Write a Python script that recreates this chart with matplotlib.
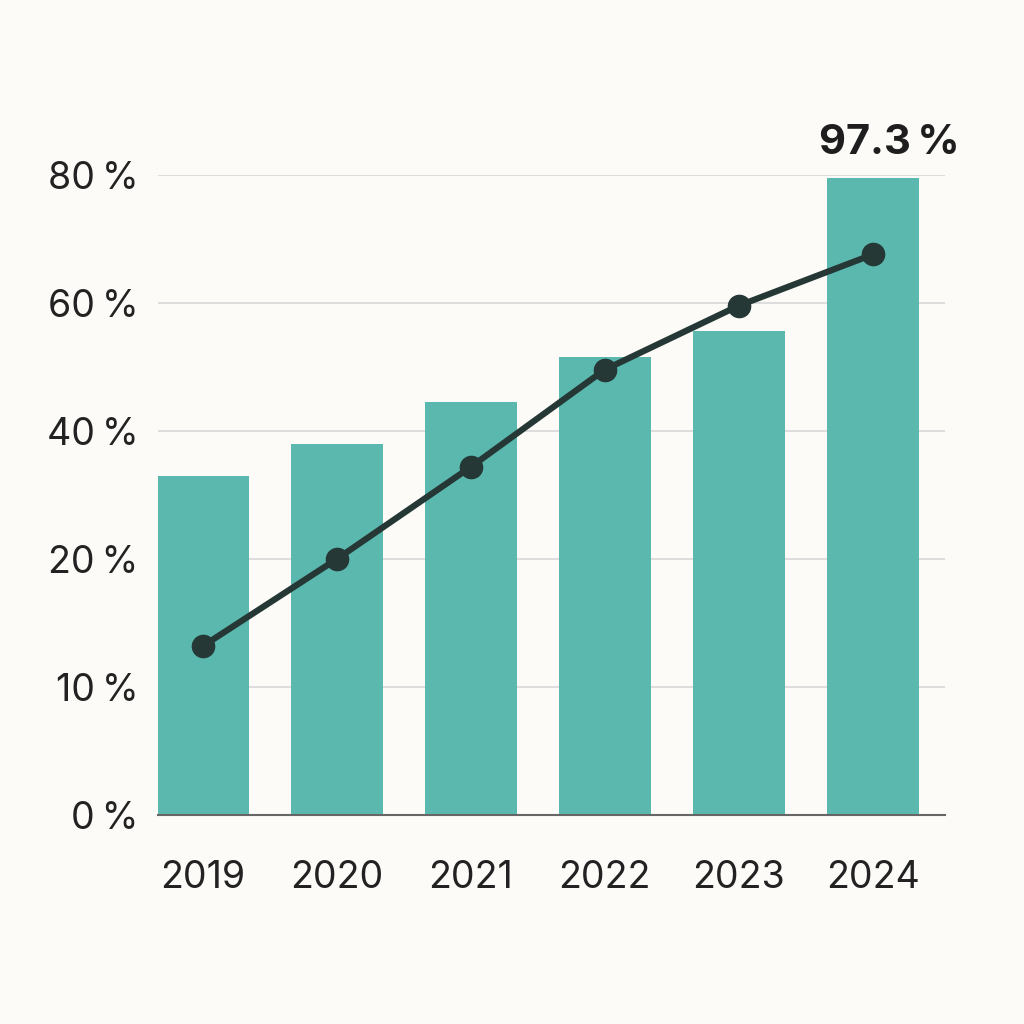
import numpy as np
import matplotlib
matplotlib.use('Agg')
import matplotlib.pyplot as plt

plt.rcParams['font.family'] = ['Inter', 'DejaVu Sans']

years = ['2019', '2020', '2021', '2022', '2023', '2024']
bar_values = [33.0, 38.0, 44.6, 51.6, 55.6, 79.6]
line_values = [13.2, 20.0, 34.4, 49.6, 59.6, 67.6]
tick_values = [0, 10, 20, 40, 60, 80]
tick_labels = ['0\u2009%', '10\u2009%', '20\u2009%', '40\u2009%', '60\u2009%', '80\u2009%']
top_label = '97.3\u2009%'

# the axis is evenly spaced between uneven tick values
steps = np.arange(len(tick_values), dtype=float)

def forward(v):
    v = np.asarray(v, dtype=float)
    return np.interp(v, tick_values, steps) + np.where(v > tick_values[-1], (v - tick_values[-1]) / 20.0, 0)

def inverse(s):
    s = np.asarray(s, dtype=float)
    return np.interp(s, steps, tick_values) + np.where(s > steps[-1], (s - steps[-1]) * 20.0, 0)

bg = '#fcfbf8'
bar_colour = '#5bb8ae'
line_colour = '#253836'

fig = plt.figure(figsize=(10.24, 10.24), dpi=100, facecolor=bg)
ax = fig.add_axes([0.154, 0.204, 0.769, 0.625])
ax.set_facecolor(bg)
ax.set_yscale('function', functions=(forward, inverse))

x = np.arange(len(years))
ax.bar(x, bar_values, width=0.69, color=bar_colour, zorder=2)
ax.plot(x, line_values, color=line_colour, lw=4.5, marker='o', markersize=16,
        zorder=3, solid_capstyle='round')

ax.set_xlim(-0.336, 5.54)
ax.set_ylim(0, 80)
ax.set_yticks(tick_values)
ax.set_yticklabels(tick_labels)
ax.set_xticks(x)
ax.set_xticklabels(years)
ax.tick_params(axis='y', length=0, labelsize=27, colors='#222222', pad=14)
ax.tick_params(axis='x', length=0, labelsize=27, colors='#222222', pad=32)
ax.grid(axis='y', color='#d8d8d8', lw=1.2, zorder=0)
for s in ['left', 'right', 'top']:
    ax.spines[s].set_visible(False)
ax.spines['bottom'].set_color('#666666')
ax.spines['bottom'].set_linewidth(1.5)
ax.spines['bottom'].set_zorder(4)

ax.text(x[-1] + 0.12, 82, top_label, ha='center', va='bottom', fontsize=30,
        fontweight='bold', color='#1e1e1e', clip_on=False)

fig.savefig('out.png', dpi=100, facecolor=bg)
